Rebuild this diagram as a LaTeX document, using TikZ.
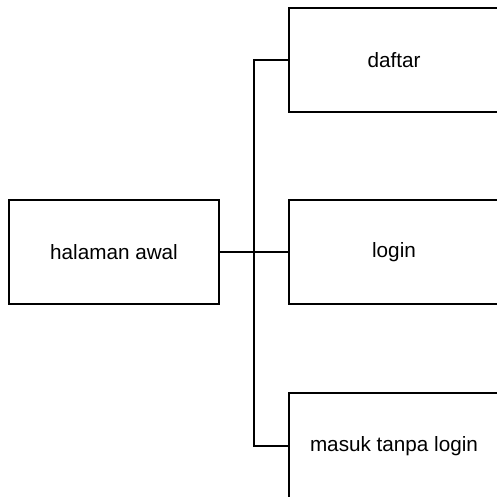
\documentclass[tikz,border=0pt]{standalone}
\usepackage{fontspec}
\setmainfont{Liberation Sans}
\begin{document}
\begin{tikzpicture}[x=1pt,y=-1pt,
  box/.style={draw=black,line width=1.2pt,minimum width=210pt,minimum height=104pt,inner sep=0pt,font=\fontsize{20.7}{24}\selectfont,fill=white},
  conn/.style={draw=black,line width=1.2pt}]
\useasboundingbox (0,0) rectangle (497,497);
\clip (0,0) rectangle (497,497);
\node[box] (ha) at (114,252) {halaman awal};
\node[box] (daftar) at (394,60) {daftar};
\node[box] (login) at (394,252) {login};
\node[box,minimum height=106pt] (masuk) at (394,446) {masuk tanpa login};
\coordinate (j) at (254,252);
\draw[conn] (ha.east) -- (login.west);
\draw[conn] (j) |- (daftar.west);
\draw[conn] (j) |- (masuk.west);
\end{tikzpicture}
\end{document}
